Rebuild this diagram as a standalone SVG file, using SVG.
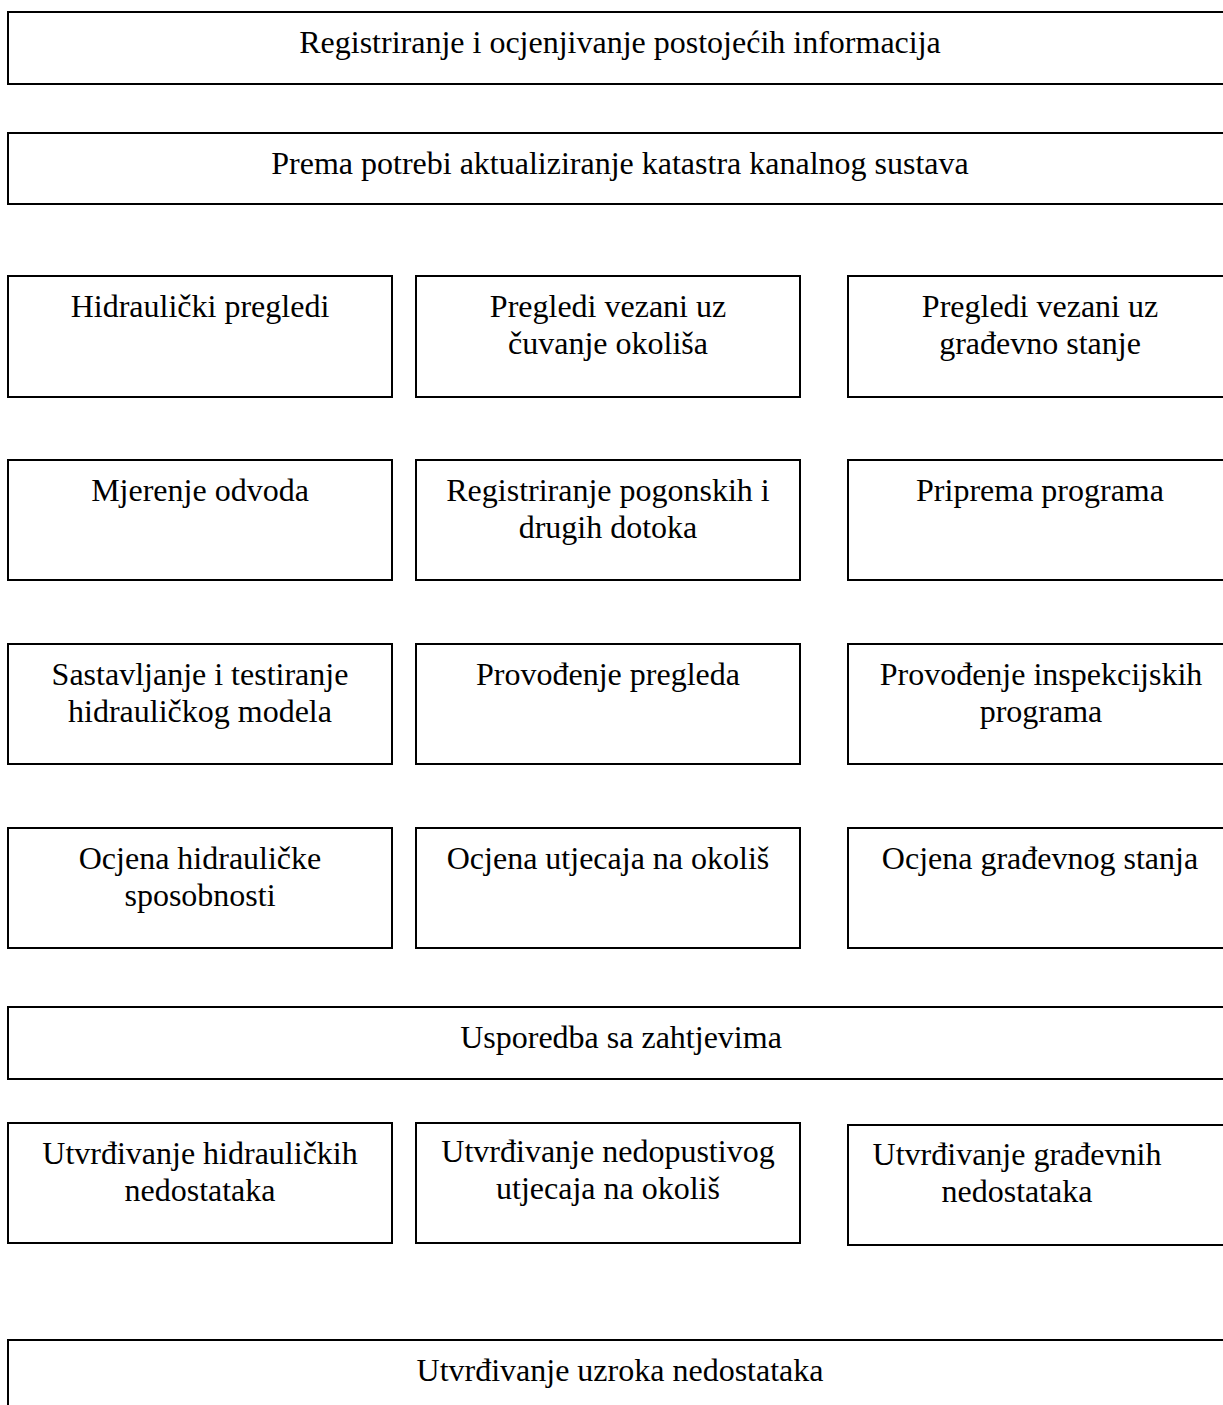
<svg xmlns="http://www.w3.org/2000/svg" width="1223" height="1405" viewBox="0 0 1223 1405">
<style>
rect{fill:#fff;stroke:#000;stroke-width:2}
text{font-family:"Liberation Serif","Times New Roman",serif;font-size:32px;fill:#000;text-anchor:middle}
</style>
<rect x="0" y="0" width="1223" height="1405" style="stroke:none"/>
<g id="n1"><rect x="8" y="12" width="1230" height="72"/><text x="620" y="53">Registriranje i ocjenjivanje postojećih informacija</text></g>
<g id="n2"><rect x="8" y="133" width="1230" height="71"/><text x="620" y="174">Prema potrebi aktualiziranje katastra kanalnog sustava</text></g>

<g id="n3a"><rect x="8" y="276" width="384" height="121"/><text x="200" y="317">Hidraulički pregledi</text></g>
<g id="n3b"><rect x="416" y="276" width="384" height="121"/><text x="608" y="317">Pregledi vezani uz</text><text x="608" y="353.5">čuvanje okoliša</text></g>
<g id="n3c"><rect x="848" y="276" width="400" height="121"/><text x="1040" y="317">Pregledi vezani uz</text><text x="1040" y="353.5">građevno stanje</text></g>

<g id="n4a"><rect x="8" y="460" width="384" height="120"/><text x="200" y="501">Mjerenje odvoda</text></g>
<g id="n4b"><rect x="416" y="460" width="384" height="120"/><text x="608" y="501">Registriranje pogonskih i</text><text x="608" y="537.5">drugih dotoka</text></g>
<g id="n4c"><rect x="848" y="460" width="400" height="120"/><text x="1040" y="501">Priprema programa</text></g>

<g id="n5a"><rect x="8" y="644" width="384" height="120"/><text x="200" y="685">Sastavljanje i testiranje</text><text x="200" y="721.5">hidrauličkog modela</text></g>
<g id="n5b"><rect x="416" y="644" width="384" height="120"/><text x="608" y="685">Provođenje pregleda</text></g>
<g id="n5c"><rect x="848" y="644" width="400" height="120"/><text x="1041" y="685">Provođenje inspekcijskih</text><text x="1041" y="721.5">programa</text></g>

<g id="n6a"><rect x="8" y="828" width="384" height="120"/><text x="200" y="869">Ocjena hidrauličke</text><text x="200" y="905.5">sposobnosti</text></g>
<g id="n6b"><rect x="416" y="828" width="384" height="120"/><text x="608" y="869">Ocjena utjecaja na okoliš</text></g>
<g id="n6c"><rect x="848" y="828" width="400" height="120"/><text x="1040" y="869">Ocjena građevnog stanja</text></g>

<g id="n7"><rect x="8" y="1007" width="1230" height="72"/><text x="621" y="1048">Usporedba sa zahtjevima</text></g>

<g id="n8a"><rect x="8" y="1123" width="384" height="120"/><text x="200" y="1164">Utvrđivanje hidrauličkih</text><text x="200" y="1200.5">nedostataka</text></g>
<g id="n8b"><rect x="416" y="1123" width="384" height="120"/><text x="608" y="1162">Utvrđivanje nedopustivog</text><text x="608" y="1198.5">utjecaja na okoliš</text></g>
<g id="n8c"><rect x="848" y="1125" width="400" height="120"/><text x="1017" y="1165">Utvrđivanje građevnih</text><text x="1017" y="1201.5">nedostataka</text></g>

<g id="n9"><rect x="8" y="1340" width="1230" height="80"/><text x="620" y="1381">Utvrđivanje uzroka nedostataka</text></g>
<g id="connectors"></g>
</svg>
